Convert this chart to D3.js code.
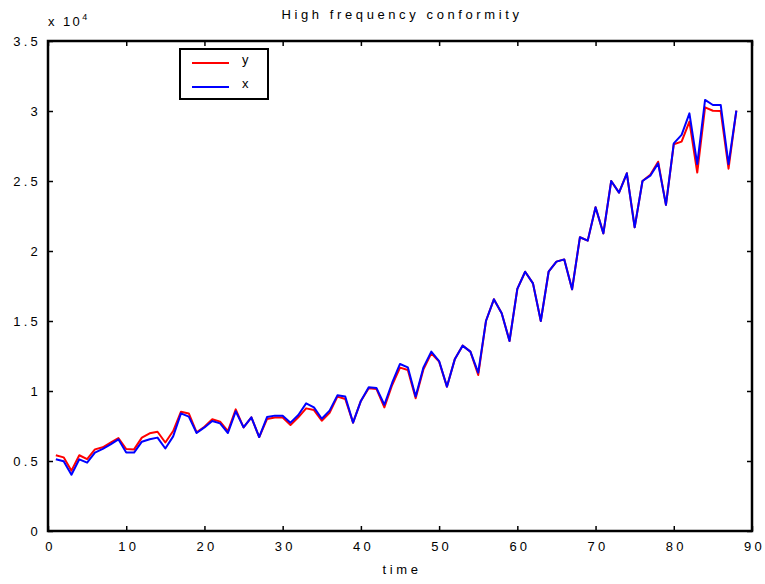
<!DOCTYPE html>
<html>
<head>
<meta charset="utf-8">
<script src="https://cdn.jsdelivr.net/npm/d3@7"></script>
<style>
    body { margin: 0; background: #fff; }
    svg text { font-family: "Liberation Sans", Arial, sans-serif; font-size: 13px; fill: #000; letter-spacing: 3.2px; }
    svg text.title { letter-spacing: 3.6px; }
</style>
</head>
<body>
<div id="chart"></div>
<script>
// values in units of 10^4, time = 1..88
let yVals = [0.541, 0.526, 0.431, 0.541, 0.514, 0.583, 0.598, 0.631, 0.664, 0.586,
    0.583, 0.667, 0.698, 0.709, 0.632, 0.714, 0.852, 0.840, 0.705, 0.745,
    0.798, 0.781, 0.714, 0.869, 0.740, 0.812, 0.671, 0.800, 0.810, 0.810,
    0.757, 0.812, 0.876, 0.864, 0.788, 0.845, 0.960, 0.943, 0.774, 0.929,
    1.019, 1.014, 0.883, 1.043, 1.167, 1.150, 0.948, 1.155, 1.269, 1.210,
    1.031, 1.226, 1.324, 1.281, 1.114, 1.502, 1.655, 1.555, 1.357, 1.729,
    1.852, 1.769, 1.500, 1.852, 1.924, 1.940, 1.726, 2.098, 2.074, 2.312,
    2.126, 2.500, 2.417, 2.555, 2.169, 2.500, 2.545, 2.638, 2.329, 2.762,
    2.781, 2.924, 2.560, 3.026, 3.002, 3.000, 2.588, 3.002];

let xVals = [0.512, 0.498, 0.402, 0.512, 0.488, 0.560, 0.586, 0.619, 0.655, 0.560,
    0.560, 0.638, 0.655, 0.667, 0.589, 0.676, 0.840, 0.817, 0.700, 0.740,
    0.786, 0.769, 0.700, 0.855, 0.740, 0.812, 0.671, 0.814, 0.824, 0.824,
    0.774, 0.829, 0.912, 0.883, 0.802, 0.860, 0.969, 0.960, 0.774, 0.929,
    1.026, 1.021, 0.902, 1.059, 1.193, 1.169, 0.960, 1.169, 1.281, 1.214,
    1.031, 1.226, 1.324, 1.281, 1.131, 1.502, 1.655, 1.555, 1.357, 1.729,
    1.852, 1.769, 1.500, 1.852, 1.924, 1.940, 1.726, 2.098, 2.074, 2.312,
    2.126, 2.500, 2.417, 2.555, 2.169, 2.500, 2.538, 2.626, 2.329, 2.769,
    2.829, 2.983, 2.621, 3.079, 3.043, 3.043, 2.621, 3.002];

let xTicks = [0, 10, 20, 30, 40, 50, 60, 70, 80, 90];
let yTicks = [0, 0.5, 1, 1.5, 2, 2.5, 3, 3.5];
let series = [
    { name: "y", color: "#ff0000", values: yVals },
    { name: "x", color: "#0000ff", values: xVals }
];

let margin = { top: 41, right: 13, bottom: 53, left: 48 };
let W = 765, H = 584;
let width = W - margin.left - margin.right;
let height = H - margin.top - margin.bottom;

let svg = d3.select("#chart").append("svg")
    .attr("width", W)
    .attr("height", H);

let plot = svg.append("g")
    .attr("transform", `translate(${margin.left},${margin.top})`);

let xScale = d3.scaleLinear().domain([0, 90]).range([0, width]);
let yScale = d3.scaleLinear().domain([0, 3.5]).range([height, 0]);

let line = d3.line()
    .x((d, i) => xScale(i + 1))
    .y(d => yScale(d));

// lines
series.forEach(s => {
    plot.append("path")
        .attr("d", line(s.values))
        .attr("fill", "none")
        .attr("stroke", s.color)
        .attr("stroke-width", 2)
        .attr("stroke-linejoin", "round");
});

// axes with inward ticks on all sides
let fmt = d => d3.format("")(d);
plot.append("g")
    .attr("transform", `translate(0,${height})`)
    .call(d3.axisBottom(xScale).tickValues(xTicks).tickSize(-5).tickPadding(11).tickFormat(fmt))
    .call(g => g.selectAll("text").attr("dx", "2px"));
plot.append("g")
    .call(d3.axisTop(xScale).tickValues(xTicks).tickSize(-5).tickFormat(""));
plot.append("g")
    .call(d3.axisLeft(yScale).tickValues(yTicks).tickSize(-5).tickPadding(7).tickFormat(fmt));
plot.append("g")
    .attr("transform", `translate(${width},0)`)
    .call(d3.axisRight(yScale).tickValues(yTicks).tickSize(-5).tickFormat(""));

plot.selectAll(".tick line").attr("stroke", "#000").attr("stroke-width", 1.5);
plot.selectAll(".tick text").style("font-size", "13px").attr("fill", "#000");
plot.selectAll(".domain").attr("d", null);

plot.append("rect")
    .attr("width", width)
    .attr("height", height)
    .attr("fill", "none")
    .attr("stroke", "#000")
    .attr("stroke-width", 2.5);

// title and labels
svg.append("text")
    .attr("class", "title")
    .attr("x", margin.left + width / 2 + 2)
    .attr("y", 19)
    .attr("text-anchor", "middle")
    .text("High frequency conformity");

svg.append("text")
    .attr("class", "title")
    .attr("x", margin.left + width / 2 + 2)
    .attr("y", 574)
    .attr("text-anchor", "middle")
    .text("time");

let expo = svg.append("text")
    .attr("x", margin.left)
    .attr("y", 26)
    .style("letter-spacing", "2.4px");
expo.append("tspan").text("x 10");
expo.append("tspan").attr("dy", -6).style("font-size", "9px").text("4");

// legend
let leg = svg.append("g").attr("transform", "translate(180,49)");
leg.append("rect")
    .attr("width", 88)
    .attr("height", 50)
    .attr("fill", "#fff")
    .attr("stroke", "#000")
    .attr("stroke-width", 2);

series.forEach((s, i) => {
    let yy = 14 + i * 24;
    leg.append("line")
        .attr("x1", 12).attr("x2", 49)
        .attr("y1", yy).attr("y2", yy)
        .attr("stroke", s.color)
        .attr("stroke-width", 2);
    leg.append("text")
        .attr("x", 62)
        .attr("y", yy + 1)
        .text(s.name);
});
</script>
</body>
</html>
